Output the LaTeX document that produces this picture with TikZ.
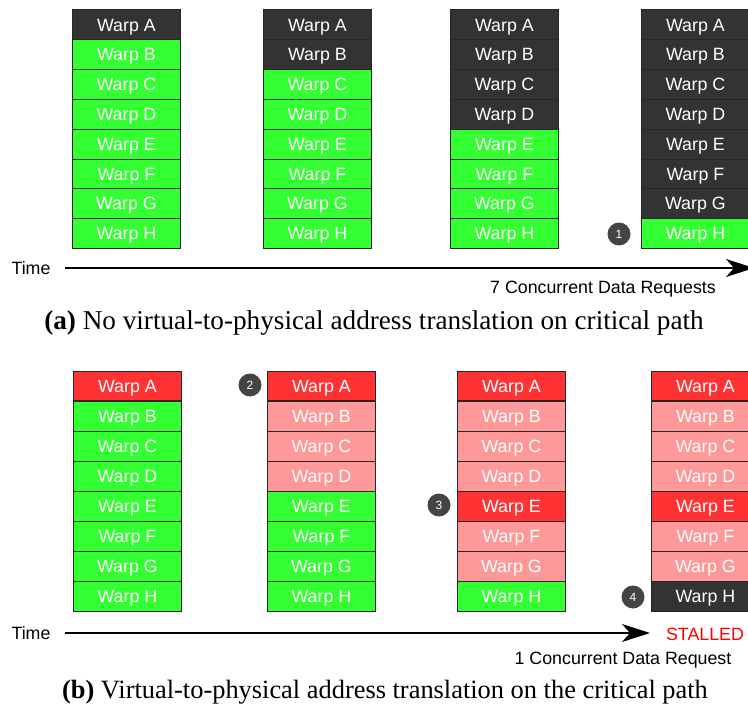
\documentclass[tikz,border=0pt]{standalone}
\usepackage{fontspec}
\setmainfont{Liberation Serif}
\newfontfamily\arialf{Liberation Sans}
\usetikzlibrary{arrows.meta}
\definecolor{cd}{HTML}{333333}
\definecolor{cg}{HTML}{33FF33}
\definecolor{cr}{HTML}{FF3333}
\definecolor{cp}{HTML}{FF9999}
\definecolor{ccirc}{HTML}{444444}
\definecolor{stallred}{HTML}{FF0000}
\begin{document}
\begin{tikzpicture}[x=1pt,y=-1pt,
  warp/.style={draw=black!85, line width=0.8pt, minimum width=108pt, minimum height=29.9pt,
    inner sep=0pt, text=white, text height=12.6pt, text depth=0pt,
    font=\arialf\fontsize{17.8}{17.8}\selectfont, anchor=north west},
  badge/.style={circle, fill=ccirc, text=white, minimum size=23pt, inner sep=0pt,
    font=\arialf\fontsize{12}{12}\selectfont},
  label/.style={font=\arialf\fontsize{17.8}{17.8}\selectfont, inner sep=0pt},
  timearrow/.style={line width=1.8pt, -{Stealth[length=28pt,width=18pt,inset=8pt]}}]
\useasboundingbox (0,0) rectangle (748,709);
% (a) top
\foreach \cid/\x/\a/\b/\c/\d/\e/\f/\g/\h in {
  1/72/d/g/g/g/g/g/g/g,
  2/263/d/d/g/g/g/g/g/g,
  3/450/d/d/d/d/g/g/g/g,
  4/641/d/d/d/d/d/d/d/g}{
  \foreach \L/\C [count=\i from 0] in {A/\a,B/\b,C/\c,D/\d,E/\e,F/\f,G/\g,H/\h}{
    \node[warp, fill=c\C] (ta\cid\L) at (\x, 9.5+29.8*\i) {Warp \L};
  }
}
% (b) bottom
\foreach \cid/\x/\a/\b/\c/\d/\e/\f/\g/\h in {
  1/73/r/g/g/g/g/g/g/g,
  2/267/r/p/p/p/g/g/g/g,
  3/457/r/p/p/p/r/p/p/g,
  4/651/r/p/p/p/r/p/p/d}{
  \foreach \L/\C [count=\i from 0] in {A/\a,B/\b,C/\c,D/\d,E/\e,F/\f,G/\g,H/\h}{
    \node[warp, fill=c\C] (tb\cid\L) at (\x, 370.5+30.1*\i) {Warp \L};
  }
}
% badges
\node[badge] (n1) at (619,234) {1};
\node[badge] (n2) at (250,385) {2};
\node[badge] (n3) at (439,505) {3};
\node[badge] (n4) at (633,597) {4};
% time axes
\node[label] (timea) at (31,268) {Time};
\coordinate (tas) at (65,268);
\coordinate (tae) at (754,268);
\draw[timearrow] (tas) -- (tae);
\node[label] (reqa) at (603,289) {7 Concurrent Data Requests};
\node[font=\fontsize{27.2}{27.2}\selectfont, inner sep=0pt] (capa) at (374,323) {\textbf{(a)} No virtual-to-physical address translation on critical path};
\node[label] (timeb) at (31,633) {Time};
\coordinate (tbs) at (65,633);
\coordinate (tbe) at (650,633);
\draw[timearrow] (tbs) -- (tbe);
\node[label, text=stallred] (stall) at (705,634) {STALLED};
\node[label] (reqb) at (623,660) {1 Concurrent Data Request};
\node[font=\fontsize{26.4}{26.4}\selectfont, inner sep=0pt] (capb) at (385,692) {\textbf{(b)} Virtual-to-physical address translation on the critical path};
\end{tikzpicture}
\end{document}
